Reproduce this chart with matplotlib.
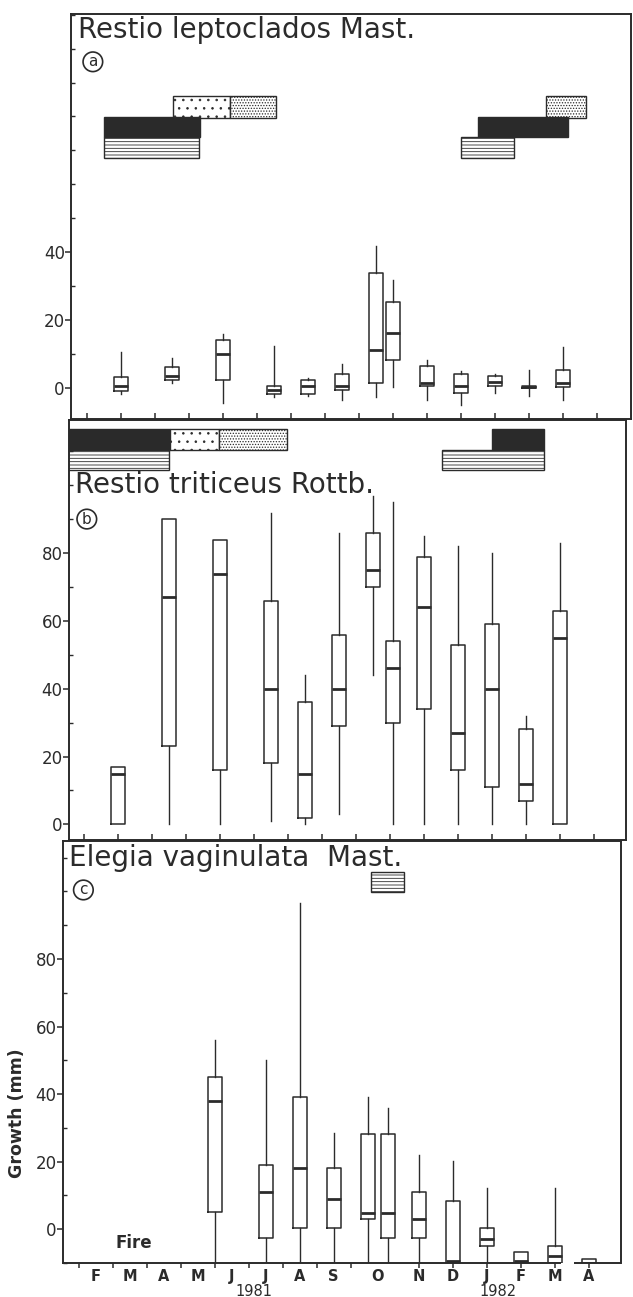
import matplotlib
matplotlib.use("Agg")
import matplotlib.pyplot as plt
from matplotlib.ticker import FixedLocator, MultipleLocator
from matplotlib.transforms import blended_transform_factory

plt.rcParams['font.family'] = ['DejaVu Sans']
plt.rcParams['hatch.linewidth'] = 0.6

INK = '#2b2b2b'

# x axis in month units: Feb 1981 = 2 ... Apr 1982 = 16
months = ['F', 'M', 'A', 'M', 'J', 'J', 'A', 'S', 'O', 'N', 'D', 'J', 'F', 'M', 'A']
month_pos = [2, 3, 4, 5, 6, 7, 8, 9, 10.3, 11.5, 12.5, 13.5, 14.5, 15.5, 16.5]
years = ['1981', '1982']
year_pos = [6.64, 13.82]

# (a) Restio leptoclados - growth (mm) per sampling date
pos_a = [2.5, 4, 5.5, 7, 8, 9, 10, 10.5, 11.5, 12.5, 13.5, 14.5, 15.5]
lo_a = [-1.9, 1.3, -4.4, -2.6, -2.4, -3.6, -2.8, 0.3, -3.6, -5.1, -1.5, -2.3, -3.6]
q1_a = [-0.9, 2.2, 2.2, -1.7, -1.7, -0.5, 1.3, 8.3, 0.5, -1.5, 0.5, 0.0, 0.3]
med_a = [0.6, 3.4, 10.0, -0.6, 0.5, 0.6, 11.2, 16.3, 1.5, 0.6, 1.6, 0.3, 1.5]
q3_a = [3.2, 6.1, 14.1, 0.4, 2.4, 4.2, 34.0, 25.4, 6.3, 4.2, 3.4, 0.6, 5.4]
hi_a = [10.7, 8.9, 15.9, 12.2, 2.9, 7.1, 41.8, 31.7, 8.1, 5.0, 4.2, 5.2, 12.0]

# (b) Restio triticeus
pos_b = [2.5, 4, 5.5, 7, 8, 9, 10, 10.6, 11.5, 12.5, 13.5, 14.5, 15.5]
lo_b = [0, 0, 0, 1, 0, 3, 44, 0, 0, 0, 0, 0, 0]
q1_b = [0, 23, 16, 18, 2, 29, 70, 30, 34, 16, 11, 7, 0]
med_b = [15, 67, 74, 40, 15, 40, 75, 46, 64, 27, 40, 12, 55]
q3_b = [17, 90, 84, 66, 36, 56, 86, 54, 79, 53, 59, 28, 63]
hi_b = [17, 90, 84, 92, 44, 86, 97, 95, 85, 82, 80, 32, 83]

# (c) Elegia vaginulata
pos_c = [5.5, 7, 8, 9, 10, 10.6, 11.5, 12.5, 13.5, 14.5, 15.5, 16.5]
lo_c = [-10, -10, -10, -10, -10, -10, -10, -10, -10, -10, -10, -10]
q1_c = [5, -2.6, 0.3, 0.5, 3.1, -2.6, -2.7, -9.9, -4.8, -10, -10, -10]
med_c = [38, 10.9, 18, 9, 4.9, 4.9, 3, -9.4, -3, -9.4, -7.8, -10]
q3_c = [45, 19, 39, 18.2, 28.2, 28.2, 11.1, 8.4, 0.3, -6.8, -4.9, -8.7]
hi_c = [56, 50, 96.4, 28.4, 39, 36, 22, 20.2, 12.1, -6.8, 12.1, -8.7]

# phenophase periods (start, end) in month units
a_solid = [(2.0, 4.8), (13.0, 15.65)]
a_striped = [(2.0, 4.78), (12.49, 14.05)]
a_sparse = [(4.03, 5.7)]
a_dense = [(5.7, 7.04), (14.99, 16.17)]
b_solid = [(0.9, 4.05), (13.51, 15.04)]
b_striped = [(0.9, 4.02), (12.04, 15.04)]
b_sparse = [(4.05, 5.48)]
b_dense = [(5.48, 7.49)]
c_striped = [(10.09, 11.06)]

STYLES = {
    'solid': dict(color='#2a2a2a', edgecolor=INK),
    'striped': dict(color='white', edgecolor=INK, hatch='-----'),
    'sparse': dict(color='white', edgecolor=INK, hatch='..'),
    'dense': dict(color='white', edgecolor=INK, hatch='......'),
}


def periods(ax, spans, y0, y1, style):
    for s, e in spans:
        ax.barh((y0 + y1) / 2, e - s, left=s, height=y1 - y0,
                linewidth=1.0, **STYLES[style])


def boxes(ax, pos, lo, q1, med, q3, hi):
    stats = [dict(whislo=a, q1=b, med=c, q3=d, whishi=e)
             for a, b, c, d, e in zip(lo, q1, med, q3, hi)]
    ax.bxp(stats, positions=pos, widths=0.41, showfliers=False, showcaps=False,
           manage_ticks=False,
           boxprops=dict(color=INK, lw=1.1),
           whiskerprops=dict(color=INK, lw=1.0),
           medianprops=dict(color=INK, lw=2.0))


def frame(ax, xlim, ylim, labelled):
    ax.set_facecolor('none')
    ax.set_xlim(*xlim)
    ax.set_ylim(*ylim)
    for sp in ax.spines.values():
        sp.set_linewidth(1.4)
        sp.set_color(INK)
    ax.yaxis.set_major_locator(FixedLocator(labelled))
    ax.yaxis.set_minor_locator(MultipleLocator(10))
    ax.tick_params(axis='y', which='major', direction='out', length=4, width=1.1,
                   pad=0.5, labelsize=12, colors=INK)
    ax.tick_params(axis='y', which='minor', direction='in', length=3, width=1.0,
                   colors=INK)


def circled(ax, x, y, letter):
    ax.text(x, y, letter, transform=ax.transAxes, ha='center', va='center',
            fontsize=11, color=INK,
            bbox=dict(boxstyle='circle,pad=0.15', fc='white', ec=INK, lw=1.2))


fig = plt.figure(figsize=(6.33, 12.97), dpi=100)
ax_a = fig.add_axes([0.1122, 0.6769, 0.8847, 0.3123])
ax_b = fig.add_axes([0.1090, 0.3524, 0.8796, 0.3238])
ax_c = fig.add_axes([0.0991, 0.0260, 0.8820, 0.3256])

boundaries = [m + 0.5 for m in range(1, 17)]

# panel a
frame(ax_a, (1.02, 17.49), (-9.2, 110.2), [0, 20, 40])
ax_a.set_xticks(boundaries, labels=[])
ax_a.tick_params(axis='x', direction='in', length=4, width=1.1, colors=INK)
periods(ax_a, a_sparse, 79.6, 86.0, 'sparse')
periods(ax_a, a_dense, 79.6, 86.0, 'dense')
periods(ax_a, a_solid, 73.9, 79.9, 'solid')
periods(ax_a, a_striped, 67.8, 73.9, 'striped')
boxes(ax_a, pos_a, lo_a, q1_a, med_a, q3_a, hi_a)
ax_a.text(0.0125, 0.941, 'Restio leptoclados Mast.', transform=ax_a.transAxes,
          fontsize=20, va='baseline', ha='left', color=INK)
circled(ax_a, 0.039, 0.882, 'a')

# panel b
frame(ax_b, (1.065, 17.44), (-4.6, 119.3), [0, 20, 40, 60, 80])
ax_b.set_xticks(boundaries, labels=[])
ax_b.tick_params(axis='x', direction='in', length=4, width=1.1, colors=INK)
periods(ax_b, b_solid, 110.5, 116.6, 'solid')
periods(ax_b, b_sparse, 110.5, 116.6, 'sparse')
periods(ax_b, b_dense, 110.5, 116.6, 'dense')
periods(ax_b, b_striped, 104.4, 110.3, 'striped')
boxes(ax_b, pos_b, lo_b, q1_b, med_b, q3_b, hi_b)
ax_b.text(0.011, 0.8255, 'Restio triticeus Rottb.', transform=ax_b.transAxes,
          fontsize=20, va='baseline', ha='left', color=INK)
circled(ax_b, 0.032, 0.764, 'b')

# panel c
xl_c = (1.03, 17.45)
yl_c = (-10.06, 114.9)
frame(ax_c, xl_c, yl_c, [0, 20, 40, 60, 80])
ax_c.xaxis.remove_overlapping_locs = False
ax_c.set_xticks(boundaries[:9] + [11.5, 12.5, 13.5, 14.5, 15.5, 16.5], labels=[])
ax_c.tick_params(axis='x', which='major', direction='out', length=3.5, width=1.1,
                 colors=INK)
ax_c.set_xticks(month_pos, labels=months, minor=True)
ax_c.tick_params(axis='x', which='minor', length=0, pad=4, labelsize=10.5,
                 colors=INK)
for lab in ax_c.get_xticklabels(minor=True):
    lab.set_fontweight('bold')
ax_c.spines['bottom'].set_bounds(xl_c[0], 15.66)
ax_c.plot([16.07, xl_c[1]], [yl_c[0], yl_c[0]], color=INK, lw=1.4,
          clip_on=False, solid_capstyle='butt')
periods(ax_c, c_striped, 99.9, 105.8, 'striped')
boxes(ax_c, pos_c, lo_c, q1_c, med_c, q3_c, hi_c)
ax_c.text(0.012, 0.941, 'Elegia vaginulata  Mast.', transform=ax_c.transAxes,
          fontsize=20, va='baseline', ha='left', color=INK)
circled(ax_c, 0.037, 0.884, 'c')
ax_c.text(3.13, -4.2, 'Fire', ha='center', va='center', fontsize=12,
          fontweight='bold', color=INK)
yr = blended_transform_factory(ax_c.transData, ax_c.transAxes)
for p, t in zip(year_pos, years):
    ax_c.text(p, -0.0673, t, transform=yr, ha='center', va='center',
              fontsize=10.5, color=INK, clip_on=False)

fig.text(0.0276, 0.1419, 'Growth (mm)', rotation=90, ha='center', va='center',
         fontsize=12.5, fontweight='bold', color=INK)

fig.savefig('out.png', dpi=100, facecolor='white')
